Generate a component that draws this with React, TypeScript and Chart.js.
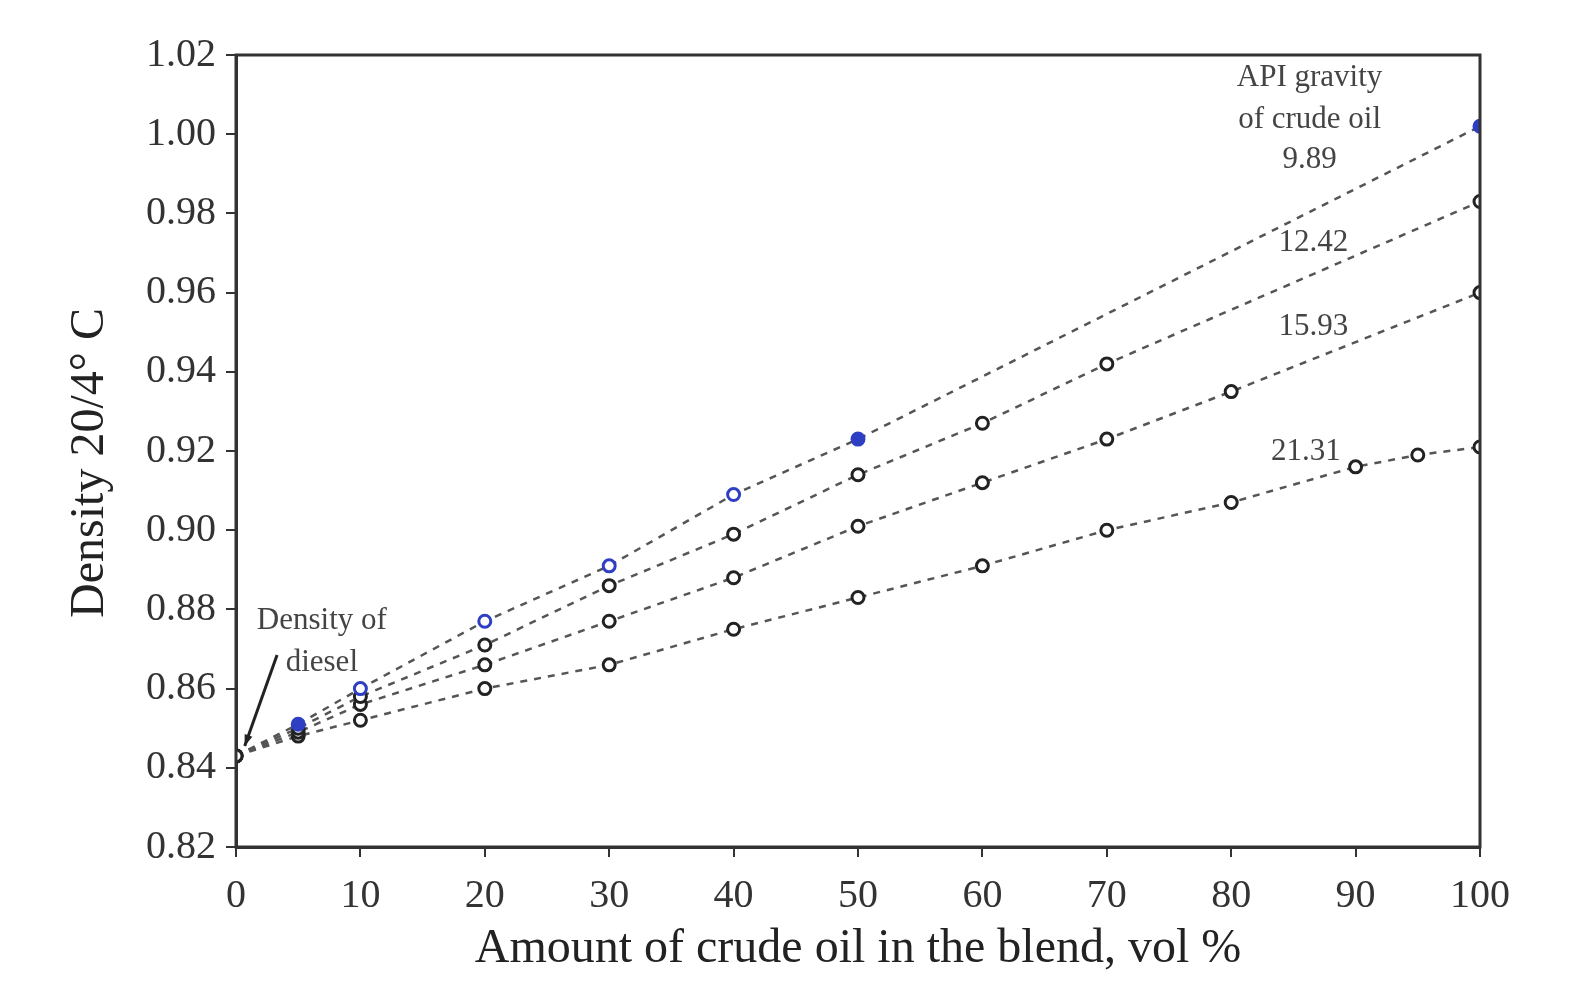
import React, { useEffect, useRef } from "react";
import { Chart, registerables } from "chart.js";

Chart.register(...registerables);

const xValues9 = [0, 5, 10, 20, 30, 40, 50, 100];
const density9 = [0.843, 0.851, 0.86, 0.877, 0.891, 0.909, 0.923, 1.002];

const xValues12 = [0, 5, 10, 20, 30, 40, 50, 60, 70, 100];
const density12 = [0.843, 0.85, 0.858, 0.871, 0.886, 0.899, 0.914, 0.927, 0.942, 0.983];

const xValues15 = [0, 5, 10, 20, 30, 40, 50, 60, 70, 80, 100];
const density15 = [0.843, 0.849, 0.856, 0.866, 0.877, 0.888, 0.901, 0.912, 0.923, 0.935, 0.96];

const xValues21 = [0, 5, 10, 20, 30, 40, 50, 60, 70, 80, 90, 95, 100];
const density21 = [0.843, 0.848, 0.852, 0.86, 0.866, 0.875, 0.883, 0.891, 0.9, 0.907, 0.916, 0.919, 0.921];

const seriesNames = ["9.89", "12.42", "15.93", "21.31"];
const xTicks = [0, 10, 20, 30, 40, 50, 60, 70, 80, 90, 100];
const yTicks = [0.82, 0.84, 0.86, 0.88, 0.9, 0.92, 0.94, 0.96, 0.98, 1.0, 1.02];

// annotation texts with data-space anchors
const annotations = [
  { text: "API gravity", x: 86.3, y: 1.0142 },
  { text: "of crude oil", x: 86.3, y: 1.0036 },
  { text: "9.89", x: 86.3, y: 0.9935 },
  { text: "12.42", x: 86.6, y: 0.9725 },
  { text: "15.93", x: 86.6, y: 0.9513 },
  { text: "21.31", x: 86.0, y: 0.9197 },
  { text: "Density of", x: 6.9, y: 0.877 },
  { text: "diesel", x: 6.9, y: 0.8665 },
];
const arrowFrom = { x: 3.3, y: 0.8685 };
const arrowTo = { x: 0.7, y: 0.8455 };

const SERIF = "'Liberation Serif', 'DejaVu Serif', serif";

function toPts(xs: number[], ys: number[]) {
  return xs.map((x, i) => ({ x, y: ys[i] }));
}

const overlayPlugin = {
  id: "overlay",
  afterDraw(chart: any) {
    const { ctx, chartArea, scales } = chart;
    const xs = scales.x;
    const ys = scales.y;
    ctx.save();
    // frame
    ctx.strokeStyle = "#333";
    ctx.lineWidth = 3;
    ctx.strokeRect(chartArea.left, chartArea.top, chartArea.right - chartArea.left, chartArea.bottom - chartArea.top);
    // annotations
    ctx.fillStyle = "#444";
    ctx.font = `31px ${SERIF}`;
    ctx.textAlign = "center";
    ctx.textBaseline = "middle";
    annotations.forEach((a) => {
      ctx.fillText(a.text, xs.getPixelForValue(a.x), ys.getPixelForValue(a.y));
    });
    // arrow
    const x1 = xs.getPixelForValue(arrowFrom.x);
    const y1 = ys.getPixelForValue(arrowFrom.y);
    const x2 = xs.getPixelForValue(arrowTo.x);
    const y2 = ys.getPixelForValue(arrowTo.y);
    ctx.strokeStyle = "#222";
    ctx.lineWidth = 3;
    ctx.beginPath();
    ctx.moveTo(x1, y1);
    ctx.lineTo(x2, y2);
    ctx.stroke();
    const ang = Math.atan2(y2 - y1, x2 - x1);
    const L = 12;
    ctx.fillStyle = "#222";
    ctx.beginPath();
    ctx.moveTo(x2, y2);
    ctx.lineTo(x2 - L * Math.cos(ang - 0.35), y2 - L * Math.sin(ang - 0.35));
    ctx.lineTo(x2 - L * Math.cos(ang + 0.35), y2 - L * Math.sin(ang + 0.35));
    ctx.closePath();
    ctx.fill();
    ctx.restore();
  },
};

export default function App() {
  const ref = useRef<HTMLCanvasElement | null>(null);

  useEffect(() => {
    if (!ref.current) return;
    const blue = "#2f3fc4";
    const dark = "#222";
    const lineCol = "#555";
    const common = {
      showLine: true,
      borderDash: [7, 7],
      borderWidth: 2.5,
      pointRadius: 6,
      pointBorderWidth: 3,
      tension: 0,
    };
    const chart = new Chart(ref.current, {
      type: "scatter",
      data: {
        datasets: [
          {
            ...common,
            label: seriesNames[3],
            data: toPts(xValues21, density21),
            borderColor: lineCol,
            pointBorderColor: dark,
            pointBackgroundColor: "#fff",
            order: 4,
          },
          {
            ...common,
            label: seriesNames[2],
            data: toPts(xValues15, density15),
            borderColor: lineCol,
            pointBorderColor: dark,
            pointBackgroundColor: "#fff",
            order: 3,
          },
          {
            ...common,
            label: seriesNames[1],
            data: toPts(xValues12, density12),
            borderColor: lineCol,
            pointBorderColor: dark,
            pointBackgroundColor: "#fff",
            order: 2,
          },
          {
            ...common,
            label: seriesNames[0],
            data: toPts(xValues9, density9),
            borderColor: lineCol,
            pointBorderColor: [dark, blue, blue, blue, blue, blue, blue, blue],
            pointBackgroundColor: ["#fff", blue, "#fff", "#fff", "#fff", "#fff", blue, blue],
            order: 1,
          },
        ],
      } as any,
      options: {
        animation: false,
        responsive: true,
        maintainAspectRatio: false,
        layout: { padding: { top: 55, right: 92, left: 0, bottom: 0 } },
        plugins: {
          legend: { display: false },
          tooltip: { enabled: false },
        },
        scales: {
          x: {
            type: "linear",
            min: 0,
            max: 100,
            afterFit: (s: any) => {
              s.height = 135;
            },
            afterBuildTicks: (s: any) => {
              s.ticks = xTicks.map((v) => ({ value: v }));
            },
            border: { color: "#333", width: 3 },
            grid: { drawOnChartArea: false, drawTicks: true, tickLength: 10, color: "#333", lineWidth: 2 },
            ticks: {
              color: "#333",
              font: { family: SERIF, size: 40 },
              padding: 15,
              maxRotation: 0,
            },
            title: {
              display: true,
              text: "Amount of crude oil in the blend, vol %",
              color: "#222",
              font: { family: SERIF, size: 48 },
              padding: { top: 0, bottom: 4 },
            },
          },
          y: {
            type: "linear",
            min: 0.82,
            max: 1.02,
            afterFit: (s: any) => {
              s.width = 236;
            },
            afterBuildTicks: (s: any) => {
              s.ticks = yTicks.map((v) => ({ value: v }));
            },
            border: { color: "#333", width: 3 },
            grid: { drawOnChartArea: false, drawTicks: true, tickLength: 10, color: "#333", lineWidth: 2 },
            ticks: {
              color: "#333",
              font: { family: SERIF, size: 40 },
              padding: 10,
              callback: (v: any) => Number(v).toFixed(2),
            },
            title: {
              display: true,
              text: "Density 20/4° C\u00a0\u00a0",
              color: "#222",
              font: { family: SERIF, size: 48 },
              padding: { top: 62, bottom: 0 },
            },
          },
        },
      } as any,
      plugins: [overlayPlugin],
    });
    return () => chart.destroy();
  }, []);

  return (
    <div style={{ position: "absolute", left: 0, top: 0, width: 1572, height: 982, background: "#fff" }}>
      <canvas ref={ref} />
    </div>
  );
}
